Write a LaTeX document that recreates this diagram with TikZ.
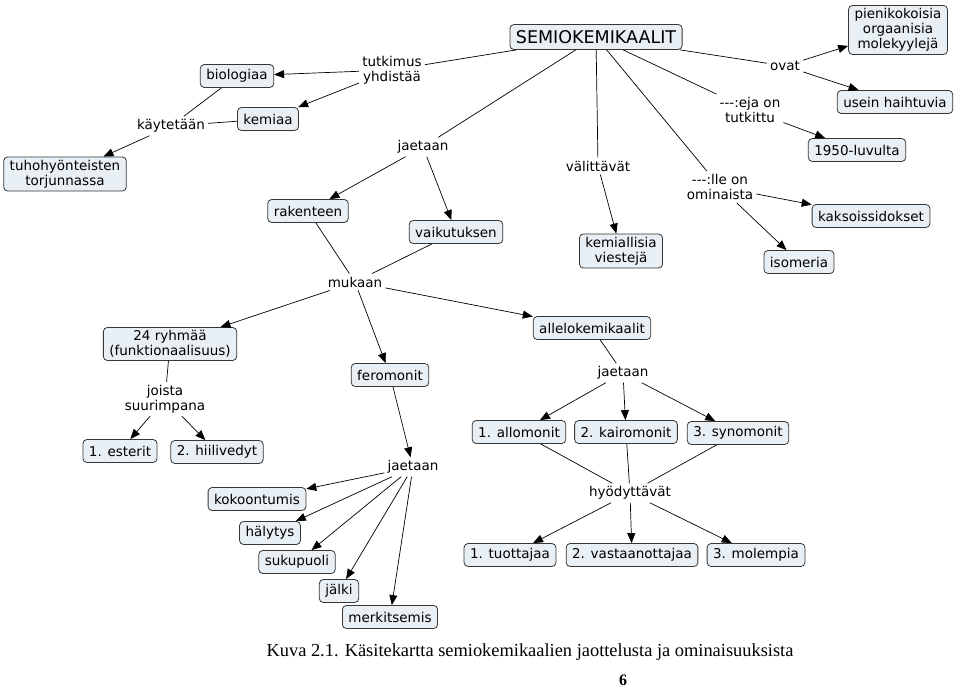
\documentclass[tikz,border=0pt]{standalone}
\usepackage{fontspec}
\setmainfont{Liberation Serif}
\newfontfamily\dv{DejaVu Sans}
\usetikzlibrary{arrows.meta}
\definecolor{cfill}{RGB}{232,240,245}
\definecolor{cline}{RGB}{55,55,55}
\begin{document}
\begin{tikzpicture}[x=1pt,y=-1pt,
  concept/.style={draw=cline, fill=cfill, rounded corners=4pt, line width=0.8pt,
    font=\dv\fontsize{13.5}{15}\selectfont, inner xsep=6pt, inner ysep=3pt,
    minimum height=23pt, align=center},
  link/.style={font=\dv\fontsize{13.5}{15}\selectfont, inner sep=3pt, align=center},
  arr/.style={-{Triangle[length=10pt,width=8pt]}, line width=0.7pt, draw=black},
  ln/.style={line width=0.7pt, draw=black}]
\useasboundingbox (0,0) rectangle (960,690);
\fill[white] (0,0) rectangle (960,690);

% concepts
\node[concept, font=\dv\fontsize{17.5}{20}\selectfont, minimum height=25pt] (semio) at (596,37) {SEMIOKEMIKAALIT};
\node[concept] (pieni) at (898,30) {pienikokoisia\\orgaanisia\\molekyylejä};
\node[concept] (usein) at (895,102) {usein haihtuvia};
\node[concept] (v1950) at (857,150) {1950-luvulta};
\node[concept] (kaksois) at (871,216) {kaksoissidokset};
\node[concept] (isom) at (799,262) {isomeria};
\node[concept] (kemvie) at (621,251) {kemiallisia\\viestejä};
\node[concept] (vaik) at (456,232) {vaikutuksen};
\node[concept] (rak) at (308,211) {rakenteen};
\node[concept] (bio) at (237,76) {biologiaa};
\node[concept] (kem) at (268,119) {kemiaa};
\node[concept] (tuho) at (65,174) {tuhohyönteisten\\torjunnassa};
\node[concept] (ryhma) at (170,344) {24 ryhmää\\(funktionaalisuus)};
\node[concept] (ester) at (120,451) {1. esterit};
\node[concept] (hiili) at (217,452) {2. hiilivedyt};
\node[concept] (fero) at (390,375) {feromonit};
\node[concept] (allelo) at (592,328) {allelokemikaalit};
\node[concept] (allom) at (519,432) {1. allomonit};
\node[concept] (kairo) at (626,432) {2. kairomonit};
\node[concept] (synom) at (738,433) {3. synomonit};
\node[concept] (tuott) at (510,555) {1. tuottajaa};
\node[concept] (vast) at (632,555) {2. vastaanottajaa};
\node[concept] (molem) at (756,555) {3. molempia};
\node[concept] (kokoon) at (257,499) {kokoontumis};
\node[concept] (haly) at (270,533) {hälytys};
\node[concept] (suku) at (297,562) {sukupuoli};
\node[concept] (jalki) at (339,591) {jälki};
\node[concept] (merk) at (390,617) {merkitsemis};

% linking phrases
\node[link] (tutk) at (392,70) {tutkimus\\yhdistää};
\node[link] (kayt) at (171,126) {käytetään};
\node[link] (jaet1) at (423,147) {jaetaan};
\node[link] (valit) at (598,166) {välittävät};
\node[link] (eja) at (750,110) {-\kern0pt-\kern0pt-:eja on\\tutkittu};
\node[link] (ovat) at (785,66) {ovat};
\node[link] (lle) at (720,187) {-\kern0pt-\kern0pt-:lle on\\ominaista};
\node[link] (mukaan) at (355,282) {mukaan};
\node[link] (joista) at (165,399) {joista\\suurimpana};
\node[link] (jaet2) at (413,467) {jaetaan};
\node[link] (jaet3) at (623,373) {jaetaan};
\node[link] (hyod) at (630,493) {hyödyttävät};

% connectors
\draw[ln] (semio) -- (tutk);
\draw[arr] (tutk) -- (bio);
\draw[arr] (tutk) -- (kem);
\draw[ln] (bio) -- (kayt);
\draw[ln] (kem) -- (kayt);
\draw[arr] (kayt) -- (tuho);

\draw[ln] (semio) -- (jaet1);
\draw[arr] (jaet1) -- (rak);
\draw[arr] (jaet1) -- (vaik);

\draw[ln] (semio) -- (valit);
\draw[arr] (valit) -- (kemvie);

\draw[ln] (semio) -- (eja);
\draw[arr] (eja) -- (v1950);

\draw[ln] (semio) -- (lle);
\draw[arr] (lle) -- (kaksois);
\draw[arr] (lle) -- (isom);

\draw[ln] (semio) -- (ovat);
\draw[arr] (ovat) -- (pieni);
\draw[arr] (ovat) -- (usein);

\draw[ln] (rak) -- (mukaan);
\draw[ln] (vaik) -- (mukaan);
\draw[arr] (mukaan) -- (ryhma);
\draw[arr] (mukaan) -- (fero);
\draw[arr] (mukaan) -- (allelo);

\draw[ln] (ryhma) -- (joista);
\draw[arr] (joista) -- (ester);
\draw[arr] (joista) -- (hiili);

\draw[arr] (fero) -- (jaet2);
\draw[arr] (jaet2) -- (kokoon);
\draw[arr] (jaet2) -- (haly);
\draw[arr] (jaet2) -- (suku);
\draw[arr] (jaet2) -- (jalki);
\draw[arr] (jaet2) -- (merk);

\draw[ln] (allelo) -- (jaet3);
\draw[arr] (jaet3) -- (allom);
\draw[arr] (jaet3) -- (kairo);
\draw[arr] (jaet3) -- (synom);

\draw[ln] (allom) -- (hyod);
\draw[ln] (kairo) -- (hyod);
\draw[ln] (synom) -- (hyod);
\draw[arr] (hyod) -- (tuott);
\draw[arr] (hyod) -- (vast);
\draw[arr] (hyod) -- (molem);

% caption
\node[font=\fontsize{18.4}{20}\selectfont, inner sep=0pt] (cap) at (530,652) {Kuva 2.1. Käsitekartta semiokemikaalien jaottelusta ja ominaisuuksista};
\node[font=\bfseries\fontsize{16}{18}\selectfont, inner sep=0pt] (pnum) at (623,680) {6};
\end{tikzpicture}
\end{document}
